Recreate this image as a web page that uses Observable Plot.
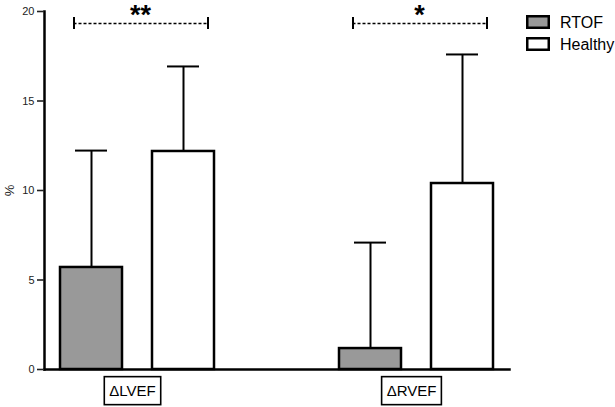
<!DOCTYPE html>
<html><head><meta charset="utf-8">
<script src="https://cdn.jsdelivr.net/npm/d3@7"></script>
<script src="https://cdn.jsdelivr.net/npm/@observablehq/plot@0.6"></script>
<style>body{margin:0;background:#fff;font-family:"Liberation Sans",Arial,sans-serif}</style>
</head><body><div id="chart"></div>
<script>
const groups = ["ΔLVEF", "ΔRVEF"];
const series = ["RTOF", "Healthy"];
const seriesColors = ["#999999", "#ffffff"];
const rtofMean = [5.70, 1.17];
const rtofSD = [6.53, 5.92];
const healthyMean = [12.18, 10.39];
const healthySD = [4.75, 7.21];
const sigLabels = ["**", "*"];
const sigLevel = [19.33, 19.33];
const yTicks = [0, 5, 10, 15, 20];

const rows = groups.flatMap((g, i) => [
  {group: g, series: series[0], mean: rtofMean[i], sd: rtofSD[i]},
  {group: g, series: series[1], mean: healthyMean[i], sd: healthySD[i]}
]);
const sig = groups.map((g, i) => ({group: g, label: sigLabels[i], level: sigLevel[i]}));
const sigEnds = sig.flatMap(d => series.map(s => ({...d, series: s})));
const tickHalf = 0.33;

const chart = Plot.plot({
  width: 615, height: 407,
  marginTop: 11, marginBottom: 38, marginLeft: 43, marginRight: 105,
  style: {fontFamily: "Liberation Sans, Arial, sans-serif", background: "white", color: "black"},
  fx: {domain: groups, paddingInner: 0.332, paddingOuter: 0, label: null},
  x: {domain: series, paddingInner: 0.3226, paddingOuter: 0.167, axis: null},
  y: {domain: [0, 20]},
  color: {domain: series, range: seriesColors},
  marks: [
    Plot.barY(rows, {fx: "group", x: "series", y: "mean", fill: "series", stroke: "black", strokeWidth: 2.5}),
    Plot.ruleX(rows, {fx: "group", x: "series", y1: "mean", y2: d => d.mean + d.sd, stroke: "black", strokeWidth: 2}),
    Plot.tickY(rows, {fx: "group", x: "series", y: d => d.mean + d.sd, stroke: "black", strokeWidth: 2, insetLeft: 15, insetRight: 15}),
    Plot.ruleY(sig, {fx: "group", y: "level", stroke: "black", strokeWidth: 1.6, strokeDasharray: "3,2", insetLeft: 29.5, insetRight: 22.5}),
    Plot.ruleX(sigEnds.filter(d => d.series === series[0]), {fx: "group", x: "series", y1: d => d.level - tickHalf, y2: d => d.level + tickHalf, stroke: "black", strokeWidth: 2, dx: -17.5}),
    Plot.ruleX(sigEnds.filter(d => d.series === series[1]), {fx: "group", x: "series", y1: d => d.level - tickHalf, y2: d => d.level + tickHalf, stroke: "black", strokeWidth: 2, dx: 24.5}),
    Plot.text(sig, {fx: "group", y: "level", text: "label", fontSize: 27, fontWeight: "bold", lineAnchor: "middle", dy: -8, dx: 3}),
    Plot.frame({anchor: "left", facet: "super", stroke: "black", strokeWidth: 2.5}),
    Plot.frame({anchor: "bottom", facet: "super", stroke: "black", strokeWidth: 2.5}),
    Plot.axisY({ticks: yTicks, tickSize: 7, tickPadding: 3, fontSize: 11, strokeWidth: 1.6, color: "#222",
      label: "%", labelAnchor: "center", labelArrow: "none", labelOffset: 40}),
    Plot.axisFx({anchor: "bottom", tickSize: 0, tickPadding: 16, fontSize: 15, dx: -5, label: null})
  ]
});
document.getElementById("chart").appendChild(chart);

const svg = d3.select(chart);
svg.selectAll('[aria-label="y-axis label"] text').attr("font-size", 13);

svg.selectAll('[aria-label="fx-axis tick label"] text').each(function() {
  const b = this.getBBox();
  const padX = 5, padY = 5.5;
  d3.select(this.parentNode).insert("rect", () => this)
    .attr("x", b.x - padX).attr("y", b.y - padY)
    .attr("width", b.width + 2 * padX).attr("height", b.height + 2 * padY)
    .attr("transform", this.getAttribute("transform"))
    .attr("fill", "white").attr("stroke", "black").attr("stroke-width", 1.6);
});

const leg = svg.append("g").attr("font-family", "Liberation Sans, Arial, sans-serif").attr("text-anchor", "start");
series.forEach((s, i) => {
  leg.append("rect").attr("x", 527.25).attr("y", 16.25 + i * 22).attr("width", 21.5).attr("height", 11.5)
    .attr("fill", seriesColors[i]).attr("stroke", "black").attr("stroke-width", 2.5);
  leg.append("text").attr("x", 560).attr("y", 22 + i * 22).attr("dy", "0.35em").attr("font-size", 16).attr("fill", "black").text(s);
});
</script></body></html>
